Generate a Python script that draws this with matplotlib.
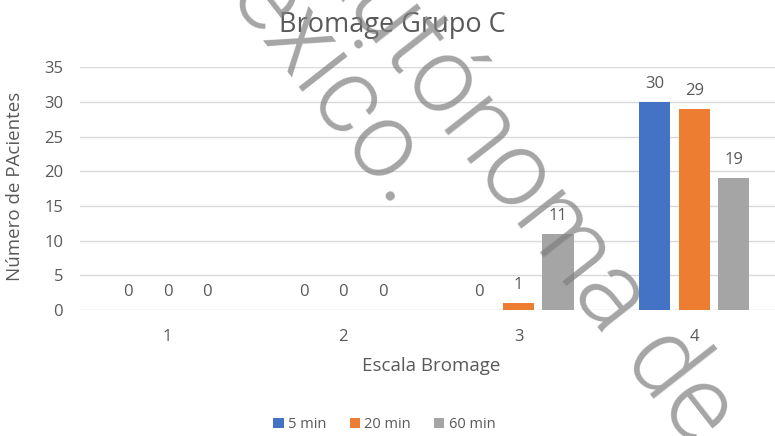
import numpy as np
import matplotlib.pyplot as plt

# Bromage scale counts per time point
categorias = ['1', '2', '3', '4']
series = ['5 min', '20 min', '60 min']
min5 = [0, 0, 0, 30]
min20 = [0, 0, 1, 29]
min60 = [0, 0, 11, 19]
colores = ['#4472C4', '#ED7D31', '#A5A5A5']

plt.rcParams['font.family'] = ['Open Sans', 'DejaVu Sans']
texto = '#595959'

fig = plt.figure(figsize=(7.75, 4.36), dpi=100)
ax = fig.add_axes([0.103, 0.289, 0.897, 0.557])

x = np.arange(1, len(categorias) + 1)
ancho = 0.177
paso = 0.224
for i, (vals, nombre) in enumerate(zip([min5, min20, min60], series)):
    pos = x + (i - 1) * paso
    barras = ax.bar(pos, vals, ancho, color=colores[i], label=nombre, zorder=3)
    for b, v in zip(barras, vals):
        ax.text(b.get_x() + b.get_width() / 2, v + 1.4, str(v), ha='center', va='bottom',
                fontsize=12, color=texto)

ax.set_xlim(0.5, 4.46)
ax.set_ylim(0, 35)
ax.set_yticks(range(0, 36, 5))
ax.set_xticks(x)
ax.set_xticklabels(categorias)
ax.grid(axis='y', color='#d9d9d9', linewidth=1)
ax.set_axisbelow(True)
for s in ax.spines.values():
    s.set_visible(False)
ax.tick_params(length=0, colors=texto, labelsize=12)
ax.tick_params(axis='y', pad=12)
ax.tick_params(axis='x', pad=14)

ax.set_xlabel('Escala Bromage', fontsize=13.5, color=texto)
ax.set_ylabel('Número de PAcientes', fontsize=13.5, color=texto)
ax.xaxis.set_label_coords(0.505, -0.195)
ax.yaxis.set_label_coords(-0.08, 0.51)
fig.text(0.506, 0.943, 'Bromage Grupo C', ha='center', va='center', fontsize=19.5, color=texto)

fig.legend(loc='center', bbox_to_anchor=(0.496, 0.027), ncol=3, frameon=False,
           handlelength=0.7, handleheight=0.7, handletextpad=0.3, columnspacing=1.6,
           fontsize=10.5, labelcolor=texto)

# watermark
fig.text(0.391, 1.114, 'Autónoma de', rotation=-52, rotation_mode='anchor', ha='left', va='baseline',
         fontsize=77, family='Roboto', fontweight=300, color='#7f7f7f', alpha=0.7, zorder=10)
fig.text(0.215, 1.163, 'México.', rotation=-52, rotation_mode='anchor', ha='left', va='baseline',
         fontsize=77, family='Roboto', fontweight=300, color='#7f7f7f', alpha=0.7, zorder=10)

fig.savefig('out.png', dpi=100)
